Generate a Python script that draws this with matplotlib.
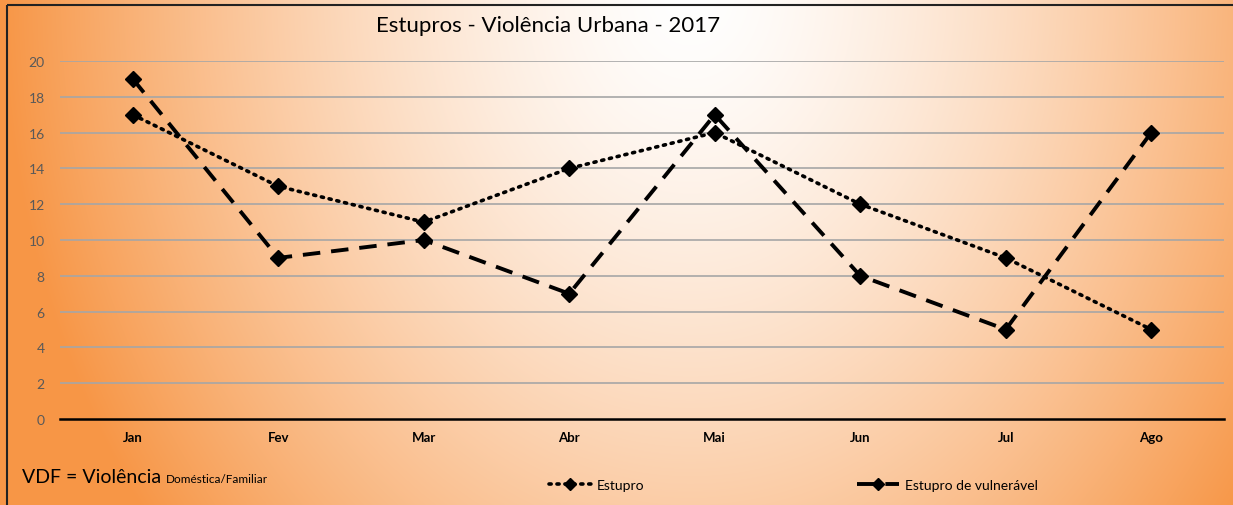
import numpy as np
import matplotlib
matplotlib.use("Agg")
import matplotlib.pyplot as plt
from matplotlib.lines import Line2D
from matplotlib.patches import Rectangle

months = ["Jan", "Fev", "Mar", "Abr", "Mai", "Jun", "Jul", "Ago"]
estupro = [17, 13, 11, 14, 16, 12, 9, 5]
vulneravel = [19, 9, 10, 7, 17, 8, 5, 16]
yticks = list(range(0, 21, 2))

plt.rcParams['font.family'] = ['Lato', 'DejaVu Sans']

W, H = 1233, 506
fig = plt.figure(figsize=(W / 100, H / 100), dpi=100)

# radial gradient background
yy, xx = np.mgrid[0:H, 0:W]
cx, cy, rx, ry = 690, -10, 690, 860
d = np.sqrt(((xx - cx) / rx) ** 2 + ((yy - cy) / ry) ** 2)
t = np.clip(d, 0, 1) ** 1.45
white = np.array([1.0, 1.0, 1.0])
orange = np.array([0xF7, 0x96, 0x46]) / 255
img = white[None, None, :] * (1 - t[..., None]) + orange[None, None, :] * t[..., None]
bg = fig.add_axes([0, 0, 1, 1])
bg.imshow(img, aspect='auto', extent=[0, W, H, 0])
bg.set_xlim(0, W)
bg.set_ylim(H, 0)
bg.axis('off')
bg.add_patch(Rectangle((7, 6), W, H, fill=False, edgecolor='#222222', linewidth=1.5))

ax = fig.add_axes([60 / W, (H - 420) / H, (1224 - 60) / W, (420 - 62) / H])
ax.patch.set_alpha(0)
x = np.arange(len(months))
ax.plot(x, estupro, linestyle=(0, (0.6, 1.6)), dash_capstyle='round', color='black',
        linewidth=2.6, marker='D', markersize=8)
ax.plot(x, vulneravel, linestyle=(0, (4.5, 2.8)), color='black',
        linewidth=2.8, marker='D', markersize=8)
ax.set_xlim(-0.5, len(months) - 0.5)
ax.set_ylim(0, 20)
ax.set_yticks(yticks)
ax.set_yticklabels([str(v) for v in yticks], color='#595959', fontsize=10)
ax.set_xticks(x)
ax.set_xticklabels(months, fontweight='bold', fontsize=9.5, color='black')
ax.tick_params(axis='both', length=0)
ax.tick_params(axis='y', pad=11)
ax.tick_params(axis='x', pad=9)
for yv in yticks[1:]:
    ax.axhline(yv, color='#A6A6A6', linewidth=1.2, zorder=0)
for s in ['top', 'right', 'left']:
    ax.spines[s].set_visible(False)
ax.spines['bottom'].set_linewidth(1.8)
ax.spines['bottom'].set_color('black')

fig.text(548 / W, 1 - 26 / H, "Estupros - Violência Urbana - 2017", ha='center', va='center',
         fontsize=16, color='black')
t1 = fig.text(22 / W, 1 - 483 / H, "VDF = Violência", ha='left', va='baseline', fontsize=14)
fig.canvas.draw()
bb = t1.get_window_extent()
fig.text((bb.x1 + 5) / W, 1 - 483 / H, "Doméstica/Familiar", ha='left', va='baseline', fontsize=8.5)

h1 = Line2D([], [], linestyle=(0, (0.6, 1.6)), dash_capstyle='round', color='black',
            linewidth=2.6, marker='D', markersize=6)
h2 = Line2D([], [], linestyle=(0, (4.5, 2.8)), color='black', linewidth=2.8,
            marker='D', markersize=6)
leg1 = fig.legend([h1], ["Estupro"], loc='center left', bbox_to_anchor=(542 / W, 1 - 486 / H),
                  frameon=False, fontsize=10, handlelength=3.0, handletextpad=0.45, borderpad=0)
leg2 = fig.legend([h2], ["Estupro de vulnerável"], loc='center left',
                  bbox_to_anchor=(850 / W, 1 - 486 / H),
                  frameon=False, fontsize=10, handlelength=3.0, handletextpad=0.45, borderpad=0)

fig.savefig("out.png", dpi=100)
